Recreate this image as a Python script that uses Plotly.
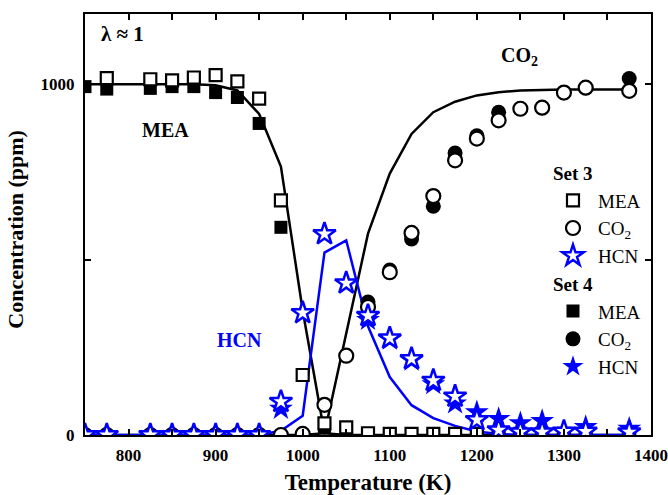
import plotly.graph_objects as go

# ---------------- data ----------------
T = [750, 775, 825, 850, 875, 900, 925, 950, 975, 1000, 1025, 1050, 1075,
     1100, 1125, 1150, 1175, 1200, 1225, 1250, 1275, 1300, 1325, 1375]

set3_mea = [None, 1017, 1014, 1011, 1019, 1026, 1008, 959, 669, 171, 33, 22, 5,
            3, 3, 3, 3, 3, 3, 3, 3, 3, 3, 3]
set4_mea = [993, 986, 988, 993, 993, 976, 962, 888, 592, None, 22, 1, 0,
            0, 0, 0, 0, 0, 0, 0, 0, 0, 0, 0]

set3_co2 = [0, 0, 0, 0, 0, 0, 0, 0, 0, 3, 86, 226, 365,
            464, 576, 681, 783, 845, 897, 930, 933, 976, 990, 981]
set4_co2 = [0, 0, 0, 0, 0, 0, 0, 0, 0, 0, None, None, 379,
            470, 559, 652, 804, 853, 920, 930, 933, 976, 990, 1016]

set3_hcn = [0, 0, 0, 0, 0, 0, 0, 0, 95, 348, 573, 433, 340,
            276, 217, 155, 110, 43, 14, 8, 8, 10, 10, 8]
set4_hcn = [0, 0, 0, 0, 0, 0, 0, 0, 75, None, None, None, 328,
            272, 212, 145, 90, 65, 46, 34, 40, 8, 23, 18]

T_model = [750, 775, 800, 825, 850, 875, 900, 925, 950, 975, 1000, 1025, 1050,
           1075, 1100, 1125, 1150, 1175, 1200, 1225, 1250, 1275, 1300, 1325, 1350, 1375]
mea_model = [1000, 1000, 1000, 1000, 1000, 1000, 997, 982, 915, 765, 355, 5, 0,
             0, 0, 0, 0, 0, 0, 0, 0, 0, 0, 0, 0, 0]
co2_model = [0, 0, 0, 0, 0, 0, 0, 0, 0, 0, 0, 5, 285,
             574, 745, 858, 920, 950, 968, 977, 982, 984, 985, 985, 985, 985]
hcn_model = [0, 0, 0, 0, 0, 0, 0, 0, 0, 12, 55, 520, 555,
             310, 165, 85, 48, 26, 10, 3, 0, 0, 0, 0, 0, 0]

x_ticks = [800, 900, 1000, 1100, 1200, 1300, 1400]
y_ticks = [0, 1000]

FONT = "Liberation Serif, Times New Roman, serif"
BLUE = "#0000FF"

fig = go.Figure()

# model lines
fig.add_trace(go.Scatter(x=T_model, y=mea_model, mode="lines",
                         line=dict(color="black", width=2.5), showlegend=False))
fig.add_trace(go.Scatter(x=T_model, y=co2_model, mode="lines",
                         line=dict(color="black", width=2.5), showlegend=False))
fig.add_trace(go.Scatter(x=T_model, y=hcn_model, mode="lines",
                         line=dict(color=BLUE, width=2.5), showlegend=False))

g3 = dict(legendgroup="set3", legendgrouptitle=dict(text="Set 3"))
g4 = dict(legendgroup="set4", legendgrouptitle=dict(text="Set 4"))

# Set 4 (filled)
fig.add_trace(go.Scatter(x=T, y=set4_mea, mode="markers", name="MEA", legendrank=4,
                         marker=dict(symbol="square", size=13, color="black"), **g4))
fig.add_trace(go.Scatter(x=T, y=set4_co2, mode="markers", name="CO<sub>2</sub>", legendrank=5,
                         marker=dict(symbol="circle", size=15, color="black"), **g4))
# Set 3 (open)
fig.add_trace(go.Scatter(x=T, y=set3_mea, mode="markers", name="MEA", legendrank=1,
                         marker=dict(symbol="square", size=12, color="white",
                                     line=dict(color="black", width=2.2)), **g3))
fig.add_trace(go.Scatter(x=T, y=set3_co2, mode="markers", name="CO<sub>2</sub>", legendrank=2,
                         marker=dict(symbol="circle", size=14, color="white",
                                     line=dict(color="black", width=2.2)), **g3))
fig.add_trace(go.Scatter(x=T, y=set4_hcn, mode="markers", name="HCN", legendrank=6,
                         marker=dict(symbol="star", size=18, color=BLUE), **g4))
fig.add_trace(go.Scatter(x=T, y=set3_hcn, mode="markers", name="HCN", legendrank=3,
                         marker=dict(symbol="star", size=17, color="white",
                                     line=dict(color=BLUE, width=2.5)), **g3))

# text labels
fig.add_annotation(x=766, y=1142, text="<b>λ ≈ 1</b>", showarrow=False,
                   xanchor="left", yanchor="middle", font=dict(family=FONT, size=21, color="black"))
fig.add_annotation(x=842, y=869, text="<b>MEA</b>", showarrow=False,
                   font=dict(family=FONT, size=20, color="black"))
fig.add_annotation(x=1249, y=1080, text="<b>CO<sub>2</sub></b>", showarrow=False,
                   font=dict(family=FONT, size=20, color="black"))
fig.add_annotation(x=927, y=271, text="<b>HCN</b>", showarrow=False,
                   font=dict(family=FONT, size=20, color=BLUE))
fig.add_annotation(xref="paper", yref="paper", x=-0.122, y=0.49,
                   xanchor="center", yanchor="middle",
                   text="<b>Concentration (ppm)</b>", textangle=-90, showarrow=False,
                   font=dict(family=FONT, size=22, color="black"))

fig.update_layout(
    width=668, height=495,
    margin=dict(l=85, r=17, t=14, b=60),
    paper_bgcolor="white", plot_bgcolor="white",
    font=dict(family=FONT, color="black"),
    legend=dict(x=0.818, y=0.668, xanchor="left", yanchor="top",
                bgcolor="rgba(0,0,0,0)", tracegroupgap=0, itemwidth=40,
                font=dict(family=FONT, size=19, color="black"),
                grouptitlefont=dict(family=FONT, size=19, color="black", weight="bold"),
                traceorder="grouped"),
    xaxis=dict(range=[750, 1400], tickvals=x_ticks, ticks="inside", ticklen=6,
               tickwidth=1.5, tickcolor="black", showline=True, linecolor="black",
               linewidth=2, mirror="ticks", showgrid=False, zeroline=False,
               automargin=False,
               tickfont=dict(family=FONT, size=17, weight="bold"), ticklabelstandoff=4,
               minor=dict(dtick=50, tick0=750, ticks="inside", ticklen=6, tickwidth=1.5,
                          tickcolor="black", showgrid=False),
               title=dict(text="Temperature (K)", standoff=14,
                          font=dict(family=FONT, size=23, weight="bold"))),
    yaxis=dict(range=[0, 1200], tickvals=y_ticks, ticks="inside",
               ticklen=6, tickwidth=1.5, tickcolor="black", showline=True,
               linecolor="black", linewidth=2, mirror="ticks", showgrid=False,
               zeroline=False, ticklabelstandoff=5, automargin=False,
               minor=dict(dtick=500, tick0=0, ticks="inside", ticklen=6, tickwidth=1.5,
                          tickcolor="black", showgrid=False),
               tickfont=dict(family=FONT, size=17, weight="bold")),
)

# remove the page's default body margin so the 668x495 figure fills the window
fig.write_html("out.html",
               config={"displayModeBar": False},
               post_script="document.body.style.margin='0';"
                           "document.body.style.overflow='hidden';")
